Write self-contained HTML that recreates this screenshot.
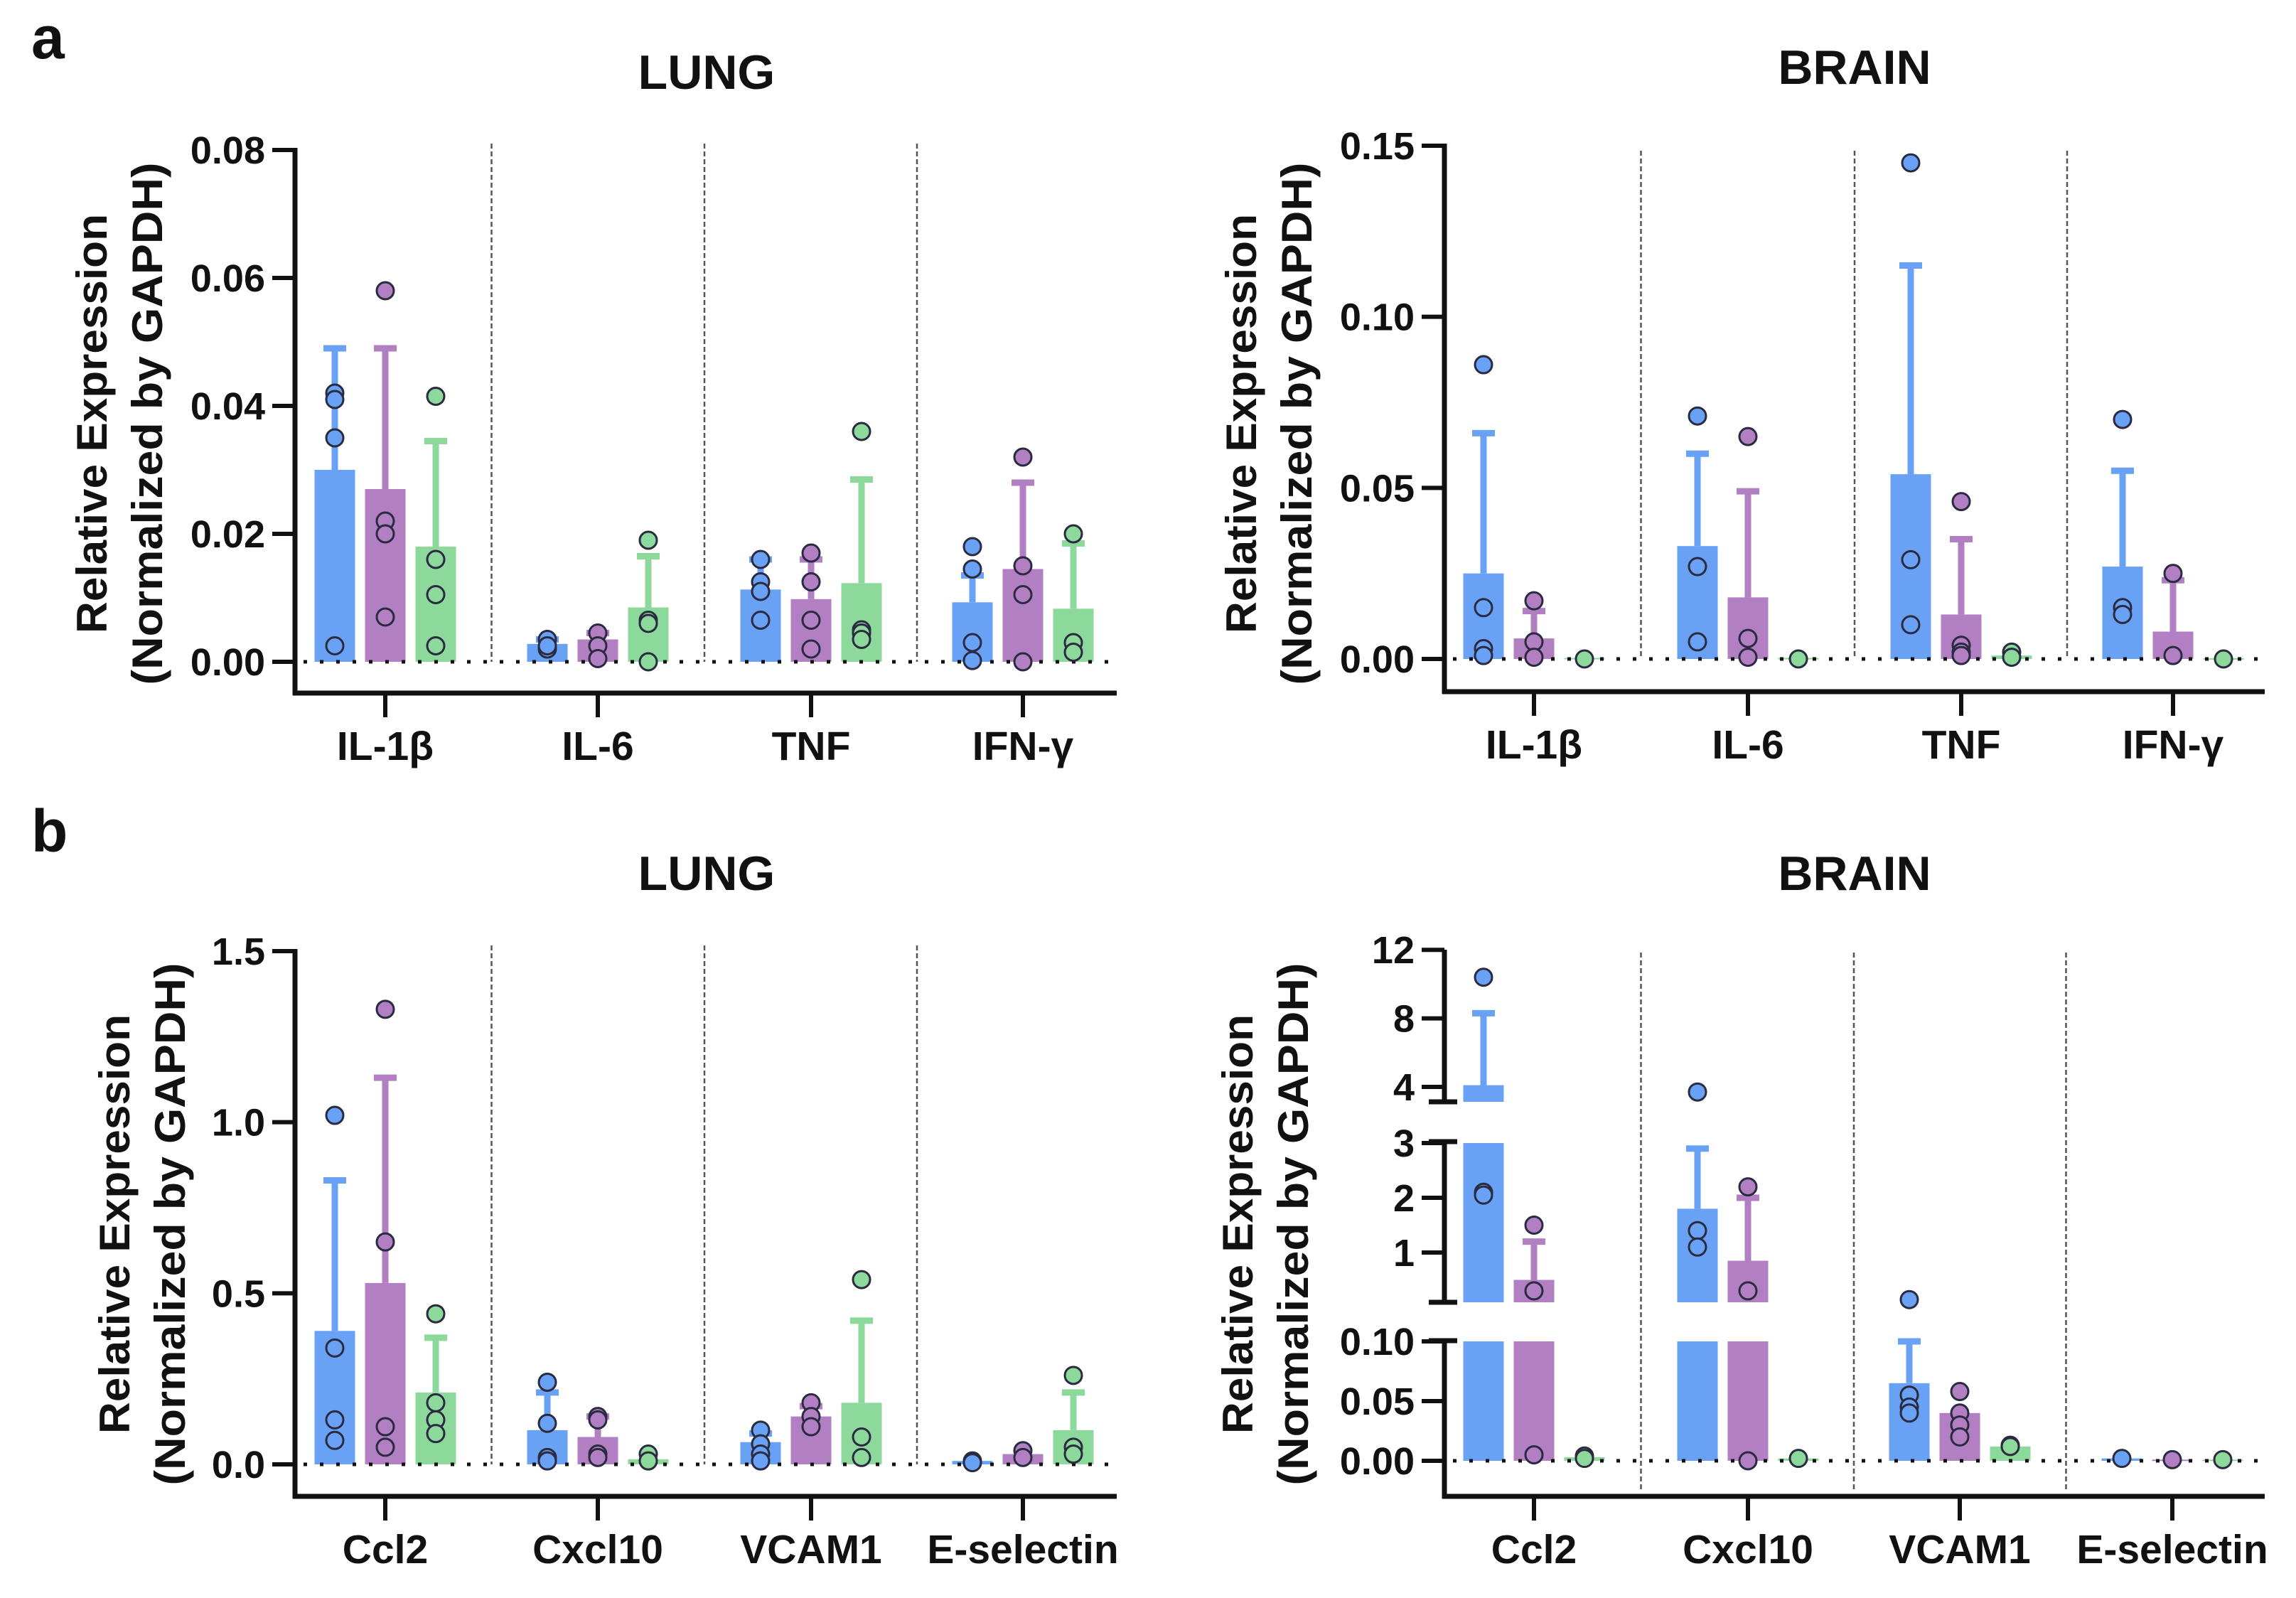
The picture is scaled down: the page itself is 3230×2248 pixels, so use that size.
<!DOCTYPE html>
<html><head><meta charset="utf-8"><style>
html,body{margin:0;padding:0;background:#fff}
svg{display:block}
text{font-family:"Liberation Sans",Arial,sans-serif;font-weight:bold;fill:#111}
</style></head><body>
<svg id="fig" width="3230" height="2248" viewBox="0 0 3230 2248" xmlns="http://www.w3.org/2000/svg">
<text x="44" y="82" font-size="84">a</text>
<text x="44" y="1198" font-size="84">b</text>
</svg>
<script>
// ---- data ----
const catsA = ["IL-1β","IL-6","TNF","IFN-γ"];
const catsB = ["Ccl2","Cxcl10","VCAM1","E-selectin"];
// Lung a
const lungA_mean = [[0.030,0.027,0.018],[0.0028,0.0035,0.0085],[0.0113,0.0098,0.0123],[0.0093,0.0145,0.0083]];
const lungA_err  = [[0.049,0.049,0.0345],[0.0035,0.0045,0.0165],[0.016,0.016,0.0285],[0.0135,0.028,0.0185]];
const lungA_pts  = [[[0.042,0.041,0.035,0.0025],[0.058,0.022,0.020,0.007],[0.0415,0.016,0.0105,0.0025]],
                    [[0.0035,0.002,0.0025],[0.0045,0.0025,0.0005],[0.019,0.0065,0.006,0.0]],
                    [[0.016,0.0125,0.011,0.0065],[0.017,0.0125,0.0065,0.002],[0.036,0.005,0.0045,0.0035]],
                    [[0.018,0.0145,0.003,0.0002],[0.032,0.015,0.0105,0.0],[0.020,0.003,0.0015]]];
const lungA_ticks = ["0.00","0.02","0.04","0.06","0.08"];
const lungA_tickVals = [0,0.02,0.04,0.06,0.08];
// Brain a
const brainA_mean = [[0.025,0.006,0.0003],[0.033,0.018,0.0003],[0.054,0.013,0.001],[0.027,0.008,0.0002]];
const brainA_err  = [[0.066,0.014,0],[0.060,0.049,0],[0.115,0.035,0],[0.055,0.023,0]];
const brainA_pts  = [[[0.086,0.015,0.003,0.001],[0.017,0.005,0.0005],[0.0]],
                     [[0.071,0.027,0.005],[0.065,0.006,0.0005],[0.0]],
                     [[0.145,0.029,0.010],[0.046,0.004,0.002,0.001],[0.002,0.0005]],
                     [[0.070,0.015,0.013],[0.025,0.001],[0.0]]];
const brainA_ticks = ["0.00","0.05","0.10","0.15"];
const brainA_tickVals = [0,0.05,0.10,0.15];
// Lung b
const lungB_mean = [[0.39,0.53,0.21],[0.10,0.08,0.015],[0.065,0.14,0.18],[0.01,0.03,0.10]];
const lungB_err  = [[0.83,1.13,0.37],[0.21,0.14,0],[0.09,0.17,0.42],[0,0,0.21]];
const lungB_pts  = [[[1.02,0.34,0.13,0.07],[1.33,0.65,0.11,0.05],[0.44,0.18,0.13,0.09]],
                    [[0.24,0.12,0.02,0.01],[0.14,0.13,0.03,0.02],[0.03,0.01]],
                    [[0.10,0.06,0.03,0.01],[0.18,0.14,0.11],[0.54,0.08,0.02]],
                    [[0.01,0.005],[0.04,0.02],[0.26,0.05,0.03]]];
const lungB_ticks = ["0.0","0.5","1.0","1.5"];
const lungB_tickVals = [0,0.5,1.0,1.5];
// Brain b (broken axis)
const brainB_mean = [[4.1,0.5,0.003],[1.8,0.85,0.002],[0.065,0.04,0.012],[0.002,0.001,0.001]];
const brainB_err  = [[8.3,1.2,0],[2.9,2.0,0],[0.10,0,0],[0,0,0]];
const brainB_pts  = [[[10.4,2.1,2.05],[1.5,0.3,0.005],[0.004,0.002]],
                     [[3.7,1.4,1.1],[2.2,0.3,0.0],[0.002]],
                     [[0.135,0.055,0.045,0.04],[0.058,0.04,0.03,0.02],[0.013,0.012]],
                     [[0.002],[0.001],[0.001]]];
const brainB_ticks = ["0.00","0.05","0.10","1","2","3","4","8","12"];
const brainB_tickVals = [0,0.05,0.10,1,2,3,4,8,12];

const COLORS = ["#69a1f4","#b17fc2","#8dd89b"];
const NS = "http://www.w3.org/2000/svg";
const svg = document.getElementById("fig");
function mk(tag, attrs, parent){ const e=document.createElementNS(NS,tag); for(const k in attrs) e.setAttribute(k,attrs[k]); (parent||svg).appendChild(e); return e; }

function panel(o){
  const g = mk("g",{});
  
  
  const t = mk("text",{x:o.titleX,y:o.titleY,"font-size":68,"text-anchor":"middle"},g);
  t.textContent = o.title;
  
  
  const yl = mk("g",{transform:`translate(${o.ylX},${o.ylY}) rotate(-90)`},g);
  
  
  const l1 = mk("text",{x:0,y:0,"font-size":60,"text-anchor":"middle",textLength:590,lengthAdjust:"spacingAndGlyphs"},yl);
  l1.textContent="Relative Expression";
  const l2 = mk("text",{x:0,y:78,"font-size":60,"text-anchor":"middle",textLength:735,lengthAdjust:"spacingAndGlyphs"},yl);
  l2.textContent="(Normalized by GAPDH)";
  const ax=o.axisX, y=o.y, zero=y(0);
  for(let i=0;i<3;i++){
    const sx=(o.centers[i]+o.centers[i+1])/2;
    const s=mk("line",{x1:sx,x2:sx,y1:o.sepTop,y2:o.sepBottom,stroke:"#555","stroke-width":2.5,"stroke-dasharray":"7 4"},g);
    
    
  }
  o.centers.forEach((cx,ci)=>{
    for(let s=0;s<3;s++){
      const bx=cx+(s-1)*71, m=o.mean[ci][s], e=o.err[ci][s], col=COLORS[s];
      const segs = o.barSegs ? o.barSegs(m) : [[zero,y(m)]];
      segs.forEach(sg=>{
        const r=mk("rect",{x:bx-28.5,y:Math.min(sg[0],sg[1]),width:57,height:Math.max(Math.abs(sg[0]-sg[1]),2),fill:col},g);
        
        
      });
      if(e>m){
        const eb=mk("line",{x1:bx,x2:bx,y1:y(m),y2:y(e),stroke:col,"stroke-width":9},g);
        
        
        mk("line",{x1:bx-16,x2:bx+16,y1:y(e),y2:y(e),stroke:col,"stroke-width":9},g);
      }
    }
  });
  const zl=mk("line",{x1:ax+12,x2:o.endX,y1:zero,y2:zero,stroke:"#111","stroke-width":5,"stroke-dasharray":"5 18"},g);
  
  
  o.centers.forEach((cx,ci)=>{
    for(let s=0;s<3;s++){
      const bx=cx+(s-1)*71;
      o.pts[ci][s].forEach(v=>{
        const c=mk("circle",{cx:bx,cy:y(v),r:12,fill:COLORS[s],stroke:"#2a2a40","stroke-width":3},g);
        
        
      });
    }
  });
  const xa=mk("line",{x1:ax-3,x2:o.endX,y1:o.xAxisY,y2:o.xAxisY,stroke:"#111","stroke-width":7},g);
  
  
  if(o.drawY) o.drawY(g); else {
    const ya=mk("line",{x1:ax,x2:ax,y1:y(o.tickVals[o.tickVals.length-1])-3,y2:o.xAxisY+3,stroke:"#111","stroke-width":7},g);
    
    
  }
  o.tickVals.forEach((v,i)=>{
    mk("line",{x1:ax-32,x2:ax,y1:y(v),y2:y(v),stroke:"#111","stroke-width":6},g);
    const tl=mk("text",{x:ax-42,y:y(v)+19,"font-size":54,"text-anchor":"end"},g);
    tl.textContent=o.ticks[i];
    
    
  });
  o.centers.forEach((cx,ci)=>{
    mk("line",{x1:cx,x2:cx,y1:o.xAxisY,y2:o.xAxisY+34,stroke:"#111","stroke-width":6},g);
    const cl=mk("text",{x:cx,y:o.xAxisY+94,"font-size":57,"text-anchor":"middle"},g);
    cl.textContent=o.cats[ci];
    
    
  });
}
function lin(d0,d1,p0,p1){return v=>p0+(v-d0)*(p1-p0)/(d1-d0);}

panel({name:"lung-cytokine-chart",title:"LUNG",titleX:994,titleY:125,ylX:150,ylY:596,axisX:415,
  y:lin(0,0.08,931,211),centers:[542,841,1141,1439],endX:1571,xAxisY:975,sepTop:202,sepBottom:931,
  cats:catsA,mean:lungA_mean,err:lungA_err,pts:lungA_pts,ticks:lungA_ticks,tickVals:lungA_tickVals});
panel({name:"brain-cytokine-chart",title:"BRAIN",titleX:2609,titleY:118,ylX:1767,ylY:596,axisX:2032,
  y:lin(0,0.15,927,205),centers:[2158,2459,2759,3057],endX:3186,xAxisY:973,sepTop:212,sepBottom:927,
  cats:catsA,mean:brainA_mean,err:brainA_err,pts:brainA_pts,ticks:brainA_ticks,tickVals:brainA_tickVals});
panel({name:"lung-chemokine-chart",title:"LUNG",titleX:994,titleY:1252,ylX:182,ylY:1722,axisX:415,
  y:lin(0,1.5,2060,1338),centers:[542,841,1141,1439],endX:1571,xAxisY:2105,sepTop:1330,sepBottom:2060,
  cats:catsB,mean:lungB_mean,err:lungB_err,pts:lungB_pts,ticks:lungB_ticks,tickVals:lungB_tickVals});

function yB(v){
  if(v<0.2) return 2055 - v*1680;
  if(v<3.3) return 1762 - (v-1)*77;
  return 1529 - (v-4)*24.1;
}
function segsB(m){
  const s=[[2055,yB(Math.min(m,0.1))]];
  if(m>0.1) s.push([1832,yB(Math.min(m,3))]);
  if(m>3.2) s.push([1550,yB(m)]);
  return s;
}
panel({name:"brain-chemokine-chart",title:"BRAIN",titleX:2609,titleY:1252,ylX:1762,ylY:1722,axisX:2032,
  y:yB,barSegs:segsB,centers:[2158,2459,2757,3056],endX:3186,xAxisY:2105,sepTop:1340,sepBottom:2095,
  cats:catsB,mean:brainB_mean,err:brainB_err,pts:brainB_pts,ticks:brainB_ticks,tickVals:brainB_tickVals,
  drawY:function(g){
    const ax=2032;
    [[1336,1550],[1606,1832],[1886,2108]].forEach((p,i)=>{
      const l=mk("line",{x1:ax,x2:ax,y1:p[0],y2:p[1],stroke:"#111","stroke-width":7},g);
      
      
    });
    [1550,1606,1832,1886].forEach(yy=>{
      mk("line",{x1:ax-22,x2:ax+18,y1:yy,y2:yy,stroke:"#111","stroke-width":7},g);
    });
  }});
</script>
</body></html>
